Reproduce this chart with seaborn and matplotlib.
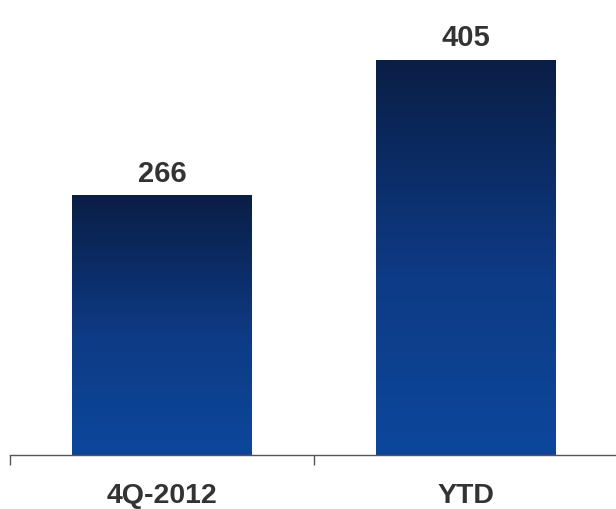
import matplotlib
matplotlib.use("Agg")
import matplotlib.pyplot as plt
import seaborn as sns
import numpy as np
import pandas as pd
from matplotlib.colors import LinearSegmentedColormap

categories = ["4Q-2012", "YTD"]
values = [266, 405]

df = pd.DataFrame({"cat": categories, "val": values})

sns.set_style("white")
plt.rcParams["font.family"] = ["Liberation Sans", "DejaVu Sans"]

fig = plt.figure(figsize=(6.16, 5.10), dpi=100)
ax = fig.add_axes([10 / 616, 54 / 510, 608 / 616, 456 / 510])

sns.barplot(data=df, x="cat", y="val", ax=ax, width=0.59, color="#0c4699",
            saturation=1)

cmap = LinearSegmentedColormap.from_list(
    "g", [(0.0, "#0c479c"), (0.45, "#0e3b85"), (0.75, "#0b2b63"), (1.0, "#0a1e45")])
grad = np.linspace(0, 1, 256).reshape(-1, 1)

ax.set_xlim(-0.5, 1.5)
ax.set_ylim(0, 467)

for p, v in zip(ax.patches, values):
    x0, y0 = p.get_x(), p.get_y()
    w, h = p.get_width(), p.get_height()
    im = ax.imshow(grad, cmap=cmap, origin="lower", aspect="auto",
                   extent=[x0, x0 + w, y0, y0 + h], zorder=2)
    im.set_clip_path(p)
    p.set_facecolor("none")
    p.set_edgecolor("none")
    ax.annotate(f"{v}", (x0 + w / 2, y0 + h), xytext=(0, 6),
                textcoords="offset points", ha="center", va="bottom",
                fontsize=21, fontweight="bold", color="#333333")

ax.set_xlim(-0.5, 1.5)
ax.set_ylim(0, 467)

for s in ["top", "right", "left"]:
    ax.spines[s].set_visible(False)
ax.spines["bottom"].set_color("#555555")
ax.spines["bottom"].set_linewidth(1.0)

ax.set_yticks([])
ax.set_xticks([-0.5, 0.5, 1.5])
ax.set_xticklabels([])
ax.set_xticks([0, 1], minor=True)
ax.set_xticklabels(categories, minor=True, fontsize=20.5, fontweight="bold",
                   color="#333333")
ax.tick_params(axis="x", which="major", direction="out", length=7,
               width=1, color="#555555", bottom=True)
ax.tick_params(axis="x", which="minor", length=0, pad=19.5)
ax.set_xlabel("")
ax.set_ylabel("")

fig.savefig("out.png", dpi=100)
